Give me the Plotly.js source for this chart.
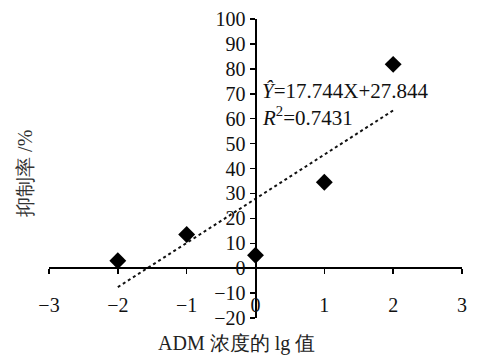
<!DOCTYPE html>
<html>
<head>
<meta charset="utf-8">
<script src="https://cdn.plot.ly/plotly-3.0.1.min.js"></script>
<style>html,body{margin:0;padding:0;background:#fff;}#chart{width:479px;height:359px;}</style>
</head>
<body>
<div id="chart"></div>
<script>
// Data
const xValues = [-2, -1, 0, 1, 2];
const yValues = [3.0, 13.5, 5.2, 34.5, 81.8];
const trendX = [-2, 2];
const trendY = [-7.6, 63.3];
const equationText = '<i>Ŷ</i>=17.744X+27.844';
const r2Text = '<i>R</i><sup>2</sup>=0.7431';
const xTitle = 'ADM 浓度的 lg 值';
const yTitle = '抑制率 /%';

const serif = 'Liberation Serif';

const traces = [
  {
    x: trendX, y: trendY, type: 'scatter', mode: 'lines',
    line: {color: '#111', width: 2, dash: 'dot'}, hoverinfo: 'skip'
  },
  {
    x: xValues, y: yValues, type: 'scatter', mode: 'markers',
    marker: {symbol: 'diamond', size: 13, color: '#000'}
  }
];

function axisBase() {
  return {
    showgrid: false, zeroline: false, showline: true,
    linecolor: '#000', linewidth: 2,
    ticks: 'outside', ticklen: 5, tickwidth: 1.5, tickcolor: '#000',
    tickfont: {family: serif, size: 20, color: '#111'},
    anchor: 'free'
  };
}

const layout = {
  width: 479, height: 359,
  margin: {l: 49, r: 17, t: 19, b: 41},
  paper_bgcolor: '#fff', plot_bgcolor: '#fff',
  font: {family: serif, size: 20, color: '#111'},
  showlegend: false,
  xaxis: Object.assign(axisBase(), {
    range: [-3, 3], dtick: 1, tick0: 0, position: 1/6,
    ticklabelstandoff: 14
  }),
  yaxis: Object.assign(axisBase(), {
    range: [-20, 100], dtick: 10, tick0: 0, position: 0.5
  }),
  annotations: [
    {text: equationText, x: 0.07, y: 71, xref: 'x', yref: 'y', xanchor: 'left', yanchor: 'middle',
     showarrow: false, font: {family: serif, size: 21, color: '#111'}},
    {text: r2Text, x: 0.07, y: 61, xref: 'x', yref: 'y', xanchor: 'left', yanchor: 'middle',
     showarrow: false, font: {family: serif, size: 21, color: '#111'}},
    {text: xTitle, x: 0.455, y: -0.084, xref: 'paper', yref: 'paper', xanchor: 'center', yanchor: 'middle',
     showarrow: false, font: {family: serif, size: 20, color: '#222'}},
    {text: yTitle, x: -0.058, y: 0.482, xref: 'paper', yref: 'paper', xanchor: 'center', yanchor: 'middle',
     textangle: -90, showarrow: false, font: {family: serif, size: 20, color: '#333'}}
  ]
};

Plotly.newPlot('chart', traces, layout, {displayModeBar: false, staticPlot: true});
</script>
</body>
</html>
